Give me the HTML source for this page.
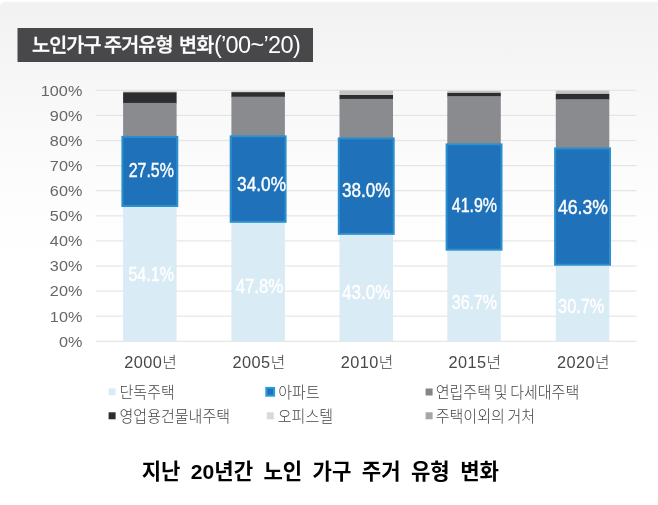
<!DOCTYPE html>
<html lang="ko"><head><meta charset="utf-8"><title>노인가구 주거유형 변화</title>
<style>
html,body{margin:0;padding:0;background:#fff;}
body{width:658px;height:505px;overflow:hidden;position:relative;font-family:"Liberation Sans","Noto Sans CJK KR","NanumGothic",sans-serif;}
#bg{position:absolute;left:0;top:0;width:658px;height:505px;background:linear-gradient(to bottom,#fff 0px,#fdfdfd 1px,#f2f2f2 3px,#f4f4f4 46px,#f8f8f8 100px,#fcfcfc 180px,#ffffff 260px,#fff 505px);}
svg{position:absolute;left:0;top:0;}
text{font-family:"Liberation Sans","Noto Sans CJK KR","NanumGothic",sans-serif;}
.ko{font-family:"Liberation Sans","Noto Sans CJK KR","NanumGothic",sans-serif;}
</style></head><body>
<div id="bg"></div>
<svg width="658" height="505" viewBox="0 0 658 505">

<path d="M0 0H10A10 7 0 0 0 0 7Z" fill="#fff" opacity="0.85"/>
<rect x="17.5" y="28" width="295.5" height="34" fill="#48484a"/>
<text class="ko" x="32" y="52" font-size="19.6" font-weight="500" fill="#fff" stroke="#fff" stroke-width="0.35" letter-spacing="-0.9" word-spacing="-1.0">노인가구 주거유형 <tspan dx="3">변화</tspan><tspan font-family="Liberation Sans, sans-serif" font-weight="400" stroke="none" font-size="23.5" letter-spacing="-0.65" word-spacing="0" dx="0.5" dy="1.3">(’00~’20)</tspan></text>
<rect x="96" y="89.70" width="540.5" height="1.2" fill="#e5e5e5"/>
<text transform="translate(82.3,95.60) scale(1.08,1)" font-size="15" fill="#666" text-anchor="end">100%</text>
<rect x="96" y="114.80" width="540.5" height="1.2" fill="#e5e5e5"/>
<text transform="translate(82.3,120.70) scale(1.08,1)" font-size="15" fill="#666" text-anchor="end">90%</text>
<rect x="96" y="139.90" width="540.5" height="1.2" fill="#e5e5e5"/>
<text transform="translate(82.3,145.80) scale(1.08,1)" font-size="15" fill="#666" text-anchor="end">80%</text>
<rect x="96" y="165.00" width="540.5" height="1.2" fill="#e5e5e5"/>
<text transform="translate(82.3,170.90) scale(1.08,1)" font-size="15" fill="#666" text-anchor="end">70%</text>
<rect x="96" y="190.10" width="540.5" height="1.2" fill="#e5e5e5"/>
<text transform="translate(82.3,196.00) scale(1.08,1)" font-size="15" fill="#666" text-anchor="end">60%</text>
<rect x="96" y="215.20" width="540.5" height="1.2" fill="#e5e5e5"/>
<text transform="translate(82.3,221.10) scale(1.08,1)" font-size="15" fill="#666" text-anchor="end">50%</text>
<rect x="96" y="240.30" width="540.5" height="1.2" fill="#e5e5e5"/>
<text transform="translate(82.3,246.20) scale(1.08,1)" font-size="15" fill="#666" text-anchor="end">40%</text>
<rect x="96" y="265.40" width="540.5" height="1.2" fill="#e5e5e5"/>
<text transform="translate(82.3,271.30) scale(1.08,1)" font-size="15" fill="#666" text-anchor="end">30%</text>
<rect x="96" y="290.50" width="540.5" height="1.2" fill="#e5e5e5"/>
<text transform="translate(82.3,296.40) scale(1.08,1)" font-size="15" fill="#666" text-anchor="end">20%</text>
<rect x="96" y="315.60" width="540.5" height="1.2" fill="#e5e5e5"/>
<text transform="translate(82.3,321.50) scale(1.08,1)" font-size="15" fill="#666" text-anchor="end">10%</text>
<rect x="96" y="340.70" width="540.5" height="1.2" fill="#e5e5e5"/>
<text transform="translate(82.3,346.60) scale(1.08,1)" font-size="15" fill="#666" text-anchor="end">0%</text>
<rect x="123.1" y="91.4" width="53.5" height="1.50" fill="#c4c4c4"/>
<rect x="123.1" y="92.4" width="53.5" height="11.00" fill="#2d2d2f"/>
<rect x="123.1" y="102.9" width="53.5" height="34.08" fill="#8a8b8e"/>
<rect x="123.1" y="205.51" width="53.5" height="135.79" fill="#d9ebf5"/>
<rect x="122.40" y="136.88" width="54.90" height="69.12" fill="#1f72b9" stroke="#2b90cd" stroke-width="2"/>
<text transform="translate(128.65,176.50) scale(0.8237,1)" font-size="19.4" fill="#fff" stroke="#fff" stroke-width="0.4">27.5%</text>
<text transform="translate(128.45,281.40) scale(0.8273,1)" font-size="19.4" fill="#fff" stroke="#fff" stroke-width="0.4">54.1%</text>
<text x="124.30" y="367.6" font-size="16.3" fill="#484848" letter-spacing="0.45">2000<tspan class="ko" font-size="15.8" font-weight="300" letter-spacing="0" dy="0">년</tspan></text>
<rect x="231.4" y="91.4" width="53.5" height="1.30" fill="#c4c4c4"/>
<rect x="231.4" y="92.2" width="53.5" height="5.00" fill="#2d2d2f"/>
<rect x="231.4" y="96.7" width="53.5" height="39.78" fill="#8a8b8e"/>
<rect x="231.4" y="221.32" width="53.5" height="119.98" fill="#d9ebf5"/>
<rect x="230.70" y="136.38" width="54.90" height="85.44" fill="#1f72b9" stroke="#2b90cd" stroke-width="2"/>
<text transform="translate(237.10,191.10) scale(0.8909,1)" font-size="19.4" fill="#fff" stroke="#fff" stroke-width="0.4">34.0%</text>
<text transform="translate(235.70,292.80) scale(0.8655,1)" font-size="19.4" fill="#fff" stroke="#fff" stroke-width="0.4">47.8%</text>
<text x="232.60" y="367.6" font-size="16.3" fill="#484848" letter-spacing="0.45">2005<tspan class="ko" font-size="15.8" font-weight="300" letter-spacing="0" dy="0">년</tspan></text>
<rect x="339.5" y="90.5" width="53.5" height="5.00" fill="#c4c4c4"/>
<rect x="339.5" y="95.0" width="53.5" height="4.40" fill="#2d2d2f"/>
<rect x="339.5" y="98.9" width="53.5" height="39.59" fill="#8a8b8e"/>
<rect x="339.5" y="233.37" width="53.5" height="107.93" fill="#d9ebf5"/>
<rect x="338.80" y="138.39" width="54.90" height="95.48" fill="#1f72b9" stroke="#2b90cd" stroke-width="2"/>
<text transform="translate(342.05,197.10) scale(0.8818,1)" font-size="19.4" fill="#fff" stroke="#fff" stroke-width="0.4">38.0%</text>
<text transform="translate(342.05,298.70) scale(0.8818,1)" font-size="19.4" fill="#fff" stroke="#fff" stroke-width="0.4">43.0%</text>
<text x="340.70" y="367.6" font-size="16.3" fill="#484848" letter-spacing="0.45">2010<tspan class="ko" font-size="15.8" font-weight="300" letter-spacing="0" dy="0">년</tspan></text>
<rect x="447.3" y="90.9" width="53.5" height="2.50" fill="#c4c4c4"/>
<rect x="447.3" y="92.9" width="53.5" height="3.80" fill="#2d2d2f"/>
<rect x="447.3" y="96.2" width="53.5" height="48.31" fill="#8a8b8e"/>
<rect x="447.3" y="249.18" width="53.5" height="92.12" fill="#d9ebf5"/>
<rect x="446.60" y="144.41" width="54.90" height="105.27" fill="#1f72b9" stroke="#2b90cd" stroke-width="2"/>
<text transform="translate(451.75,212.00) scale(0.8237,1)" font-size="19.4" fill="#fff" stroke="#fff" stroke-width="0.4">41.9%</text>
<text transform="translate(451.75,309.20) scale(0.8237,1)" font-size="19.4" fill="#fff" stroke="#fff" stroke-width="0.4">36.7%</text>
<text x="448.50" y="367.6" font-size="16.3" fill="#484848" letter-spacing="0.45">2015<tspan class="ko" font-size="15.8" font-weight="300" letter-spacing="0" dy="0">년</tspan></text>
<rect x="555.8" y="90.6" width="53.5" height="3.80" fill="#c4c4c4"/>
<rect x="555.8" y="93.9" width="53.5" height="5.90" fill="#2d2d2f"/>
<rect x="555.8" y="99.3" width="53.5" height="49.23" fill="#8a8b8e"/>
<rect x="555.8" y="264.24" width="53.5" height="77.06" fill="#d9ebf5"/>
<rect x="555.10" y="148.43" width="54.90" height="116.31" fill="#1f72b9" stroke="#2b90cd" stroke-width="2"/>
<text transform="translate(557.90,213.90) scale(0.9091,1)" font-size="19.4" fill="#fff" stroke="#fff" stroke-width="0.4">46.3%</text>
<text transform="translate(558.05,312.90) scale(0.8418,1)" font-size="19.4" fill="#fff" stroke="#fff" stroke-width="0.4">30.7%</text>
<text x="557.00" y="367.6" font-size="16.3" fill="#484848" letter-spacing="0.45">2020<tspan class="ko" font-size="15.8" font-weight="300" letter-spacing="0" dy="0">년</tspan></text>
<rect x="108.6" y="388.3" width="7" height="7" fill="#d9ebf5"/>
<text class="ko" transform="translate(119.5,397.5) scale(0.916,1)" font-size="16.4" word-spacing="-1.6" font-weight="300" fill="#444">단독주택</text>
<rect x="266.6" y="388.3" width="7" height="7" fill="#1e72ba"/>
<text class="ko" transform="translate(278.3,397.5) scale(0.916,1)" font-size="16.4" word-spacing="-1.6" font-weight="300" fill="#444">아파트</text>
<rect x="425.6" y="388.5" width="7" height="7" fill="#848588"/>
<text class="ko" transform="translate(435.7,397.7) scale(0.916,1)" font-size="16.4" word-spacing="-1.6" font-weight="300" fill="#444">연립주택 및 다세대주택</text>
<rect x="108.6" y="412.3" width="7" height="7" fill="#2d2d2f"/>
<text class="ko" transform="translate(119.5,421.5) scale(0.916,1)" font-size="16.4" word-spacing="-1.6" font-weight="300" fill="#444">영업용건물내주택</text>
<rect x="266.8" y="412.3" width="7" height="7" fill="#d9d9d9"/>
<text class="ko" transform="translate(277.8,421.5) scale(0.916,1)" font-size="16.4" word-spacing="-1.6" font-weight="300" fill="#444">오피스텔</text>
<rect x="425.6" y="412.3" width="7" height="7" fill="#a6a6a6"/>
<text class="ko" transform="translate(435.7,421.5) scale(0.916,1)" font-size="16.4" word-spacing="-1.6" font-weight="300" fill="#444">주택이외의 거처</text>
<rect x="266.3" y="387.9" width="7.8" height="7.8" fill="#1f72b9" stroke="#2b9bd9" stroke-width="2"/>
<text class="ko" x="320.3" y="479.3" font-size="21.1" font-weight="700" fill="#000" text-anchor="middle" word-spacing="4.5">지난 20년간 노인 가구 주거 유형 변화</text>
</svg></body></html>
